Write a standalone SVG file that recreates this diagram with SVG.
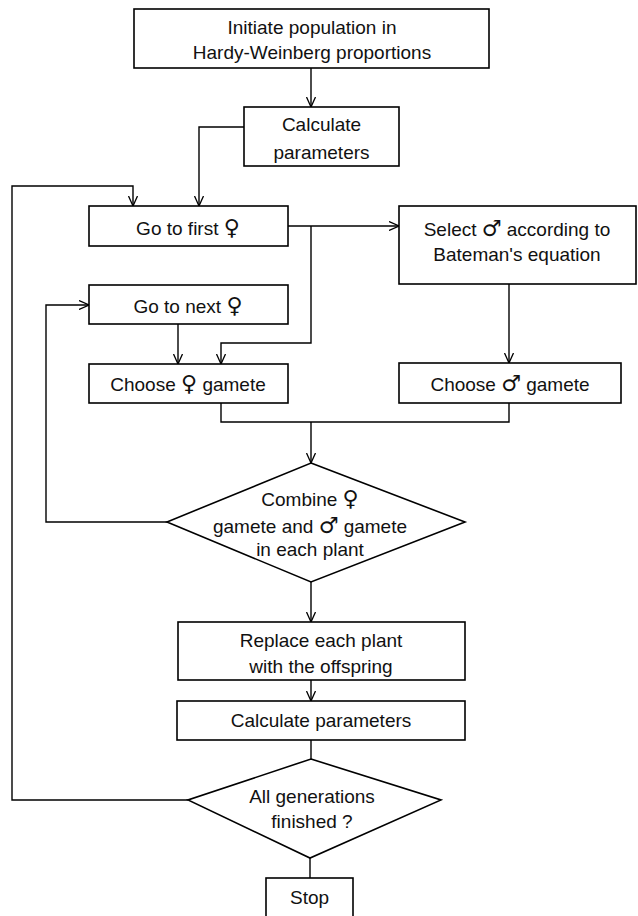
<svg xmlns="http://www.w3.org/2000/svg" width="638" height="916" viewBox="0 0 638 916">
<style>
.box{fill:#fff;stroke:#000;stroke-width:1.6}
.ln{fill:none;stroke:#000;stroke-width:1.4}
text{font-family:"Liberation Sans",Arial,sans-serif;font-size:19px;fill:#111;text-anchor:middle}
.sym{font-family:"DejaVu Sans",sans-serif;font-size:22px;font-weight:bold}
</style>
<defs>
<marker id="ah" viewBox="0 0 10 10" refX="10" refY="5" markerWidth="10" markerHeight="10" markerUnits="userSpaceOnUse" orient="auto">
<path d="M0,0.5 L10,5 L0,9.5" fill="none" stroke="#000" stroke-width="1.3"/>
</marker>
</defs>
<rect width="638" height="916" fill="#fff"/>
<g id="connectors">
<path class="ln" d="M311,68 V107" marker-end="url(#ah)"/>
<path class="ln" d="M244,127 H199 V206" marker-end="url(#ah)"/>
<path class="ln" d="M188,800 H12 V186 H133 V206" marker-end="url(#ah)"/>
<path class="ln" d="M288,226 H399" marker-end="url(#ah)"/>
<path class="ln" d="M311,226 V343 H221 V364" marker-end="url(#ah)"/>
<path class="ln" d="M178,324 V364" marker-end="url(#ah)"/>
<path class="ln" d="M509,284 V363" marker-end="url(#ah)"/>
<path class="ln" d="M221,403 V422 H509 V403"/>
<path class="ln" d="M311,422 V463" marker-end="url(#ah)"/>
<path class="ln" d="M167,522 H46 V305 H89" marker-end="url(#ah)"/>
<path class="ln" d="M311,582 V622" marker-end="url(#ah)"/>
<path class="ln" d="M311,680 V701" marker-end="url(#ah)"/>
<path class="ln" d="M311,740 V759"/>
<path class="ln" d="M310,858 V878"/>
</g>
<g id="init">
<rect class="box" x="134" y="9" width="355" height="59"/>
<text x="312" y="33.5">Initiate population in</text>
<text x="312" y="58.5">Hardy-Weinberg proportions</text>
</g>
<g id="calc1">
<rect class="box" x="244" y="107" width="155" height="59"/>
<text x="321.5" y="131">Calculate</text>
<text x="321.5" y="159">parameters</text>
</g>
<g id="gofirst">
<rect class="box" x="89" y="206" width="199" height="40"/>
<text x="188" y="235">Go to first <tspan class="sym">♀</tspan></text>
</g>
<g id="select">
<rect class="box" x="399" y="206" width="237" height="78"/>
<text x="517" y="236">Select <tspan class="sym">♂</tspan> according to</text>
<text x="517" y="261">Bateman's equation</text>
</g>
<g id="gonext">
<rect class="box" x="89" y="285" width="199" height="39"/>
<text x="188" y="313">Go to next <tspan class="sym">♀</tspan></text>
</g>
<g id="choosef">
<rect class="box" x="89" y="364" width="199" height="39"/>
<text x="188" y="391">Choose <tspan class="sym">♀</tspan> gamete</text>
</g>
<g id="choosem">
<rect class="box" x="399" y="363" width="222" height="40"/>
<text x="510" y="391">Choose <tspan class="sym">♂</tspan> gamete</text>
</g>
<g id="combine">
<polygon class="box" points="311,463 465,522 311,582 167,522"/>
<text x="310" y="506">Combine <tspan class="sym">♀</tspan></text>
<text x="310" y="533">gamete and <tspan class="sym">♂</tspan> gamete</text>
<text x="310" y="556">in each plant</text>
</g>
<g id="replace">
<rect class="box" x="178" y="622" width="287" height="58"/>
<text x="321" y="647">Replace each plant</text>
<text x="321" y="673">with the offspring</text>
</g>
<g id="calc2">
<rect class="box" x="177" y="701" width="288" height="39"/>
<text x="321" y="727">Calculate parameters</text>
</g>
<g id="allgen">
<polygon class="box" points="311,759 441,800 310,858 188,800"/>
<text x="312" y="803">All generations</text>
<text x="312" y="828">finished ?</text>
</g>
<g id="stop">
<rect class="box" x="266" y="878" width="87" height="42"/>
<text x="309.5" y="904">Stop</text>
</g>
</svg>
